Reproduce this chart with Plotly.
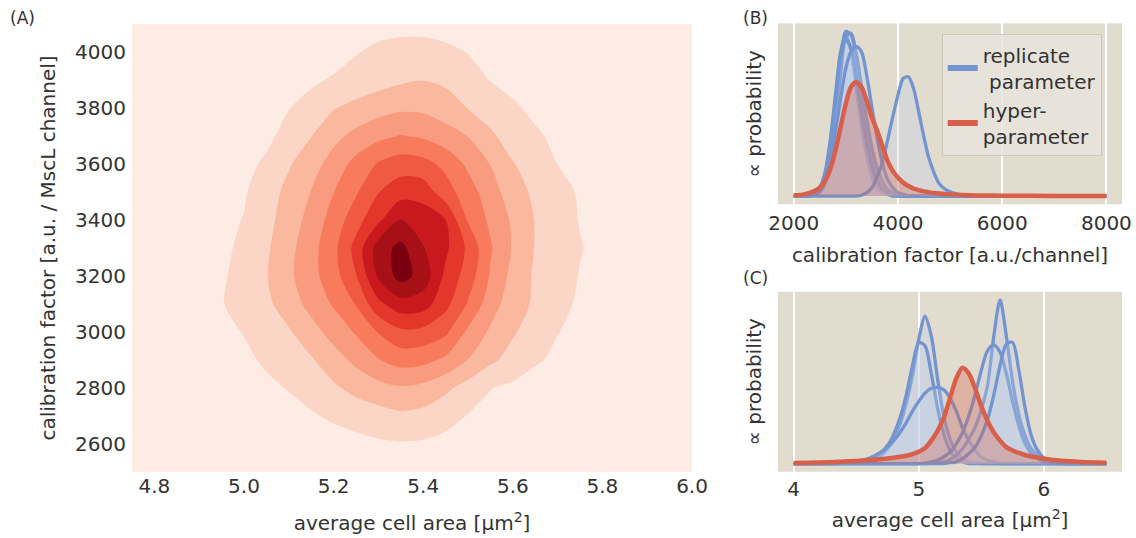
import plotly.graph_objects as go

# ---------------- Panel A: joint density (contour levels) ----------------
area_grid = [4.75, 4.9, 4.95, 5.0, 5.05, 5.1, 5.15, 5.2, 5.25, 5.3, 5.35, 5.4, 5.45,
             5.5, 5.55, 5.6, 5.65, 5.7, 5.75, 5.8, 5.9, 6.0]
calib_grid = [2500, 2600, 2700, 2800, 2900, 3000, 3100, 3200, 3300, 3400, 3500,
              3600, 3700, 3800, 3900, 4000, 4100]
density_levels = [
    [0.05, 0.1, 0.12, 0.15, 0.2, 0.25, 0.3, 0.35, 0.4, 0.45, 0.5, 0.48, 0.42, 0.36, 0.3, 0.25, 0.2, 0.15, 0.12, 0.1, 0.07, 0.05],
    [0.1, 0.2, 0.25, 0.3, 0.38, 0.45, 0.52, 0.6, 0.7, 0.85, 0.92, 0.88, 0.72, 0.6, 0.5, 0.42, 0.35, 0.3, 0.25, 0.2, 0.15, 0.1],
    [0.15, 0.3, 0.38, 0.45, 0.55, 0.7, 0.9, 1.15, 1.4, 1.6, 1.8, 1.68, 1.35, 0.95, 0.75, 0.6, 0.5, 0.42, 0.35, 0.3, 0.2, 0.12],
    [0.2, 0.4, 0.5, 0.6, 0.8, 1.05, 1.35, 1.85, 2.3, 2.65, 2.9, 2.72, 2.2, 1.6, 1.03, 0.8, 0.65, 0.55, 0.45, 0.38, 0.25, 0.15],
    [0.25, 0.5, 0.62, 0.8, 1.15, 1.5, 1.9, 2.55, 3.25, 3.95, 4.4, 4.3, 3.8, 2.97, 2.2, 1.65, 1.1, 0.85, 0.62, 0.5, 0.32, 0.2],
    [0.3, 0.6, 0.75, 1.04, 1.45, 1.9, 2.6, 3.4, 4.1, 5.05, 5.8, 5.7, 5.2, 3.8, 2.85, 2.1, 1.55, 1.02, 0.8, 0.6, 0.38, 0.22],
    [0.35, 0.75, 0.95, 1.35, 1.8, 2.45, 3.35, 4.1, 5.05, 6.75, 7.6, 7.45, 6.3, 4.9, 3.45, 2.45, 1.85, 1.3, 0.85, 0.7, 0.42, 0.25],
    [0.38, 0.7, 0.85, 1.4, 1.95, 2.8, 3.65, 4.6, 5.95, 8.15, 9.4, 8.6, 6.75, 5.55, 3.9, 2.7, 1.85, 1.5, 0.95, 0.75, 0.45, 0.25],
    [0.38, 0.65, 0.8, 1.2, 1.85, 2.7, 3.65, 4.7, 6.35, 8.5, 9.3, 8.05, 7.2, 5.8, 4.1, 2.9, 1.95, 1.5, 1.05, 0.75, 0.45, 0.25],
    [0.35, 0.6, 0.75, 1.04, 1.75, 2.4, 3.4, 4.4, 5.6, 6.8, 8.0, 7.6, 7.0, 4.9, 3.8, 2.85, 1.95, 1.45, 0.95, 0.75, 0.42, 0.22],
    [0.3, 0.55, 0.75, 0.9, 1.55, 2.28, 3.03, 3.98, 4.88, 5.96, 6.6, 6.55, 5.44, 4.45, 3.45, 2.45, 1.8, 1.45, 0.85, 0.65, 0.38, 0.2],
    [0.25, 0.45, 0.6, 0.75, 1.15, 1.9, 2.6, 3.4, 4.33, 5.1, 5.5, 5.35, 4.73, 3.8, 2.97, 2.05, 1.6, 0.98, 0.8, 0.6, 0.35, 0.18],
    [0.2, 0.38, 0.48, 0.6, 0.8, 1.3, 1.97, 2.72, 3.28, 3.73, 4.05, 3.85, 3.4, 2.97, 2.15, 1.6, 1.1, 0.85, 0.65, 0.5, 0.3, 0.15],
    [0.15, 0.3, 0.38, 0.48, 0.75, 0.97, 1.35, 1.95, 2.3, 2.6, 2.82, 2.8, 2.5, 1.97, 1.6, 1.1, 0.85, 0.68, 0.5, 0.4, 0.25, 0.12],
    [0.1, 0.2, 0.28, 0.35, 0.5, 0.65, 0.85, 1.1, 1.35, 1.6, 1.85, 1.98, 1.8, 1.4, 0.98, 0.8, 0.62, 0.5, 0.4, 0.3, 0.2, 0.1],
    [0.05, 0.12, 0.17, 0.22, 0.3, 0.4, 0.5, 0.62, 0.95, 1.2, 1.35, 1.35, 1.2, 0.97, 0.78, 0.6, 0.45, 0.35, 0.28, 0.2, 0.12, 0.06],
    [0.02, 0.05, 0.07, 0.1, 0.15, 0.2, 0.3, 0.4, 0.55, 0.65, 0.7, 0.7, 0.62, 0.5, 0.4, 0.3, 0.22, 0.15, 0.1, 0.07, 0.05, 0.02],
]
level_colors = ['#fcece4', '#fbd6c6', '#fab89e', '#f99b7e', '#f87b5e',
                '#f15a42', '#e2372a', '#c8191e', '#a81017', '#7a0010']
a_xticks = [4.8, 5.0, 5.2, 5.4, 5.6, 5.8, 6.0]
a_yticks = [2600, 2800, 3000, 3200, 3400, 3600, 3800, 4000]

# ---------------- Panel B: calibration factor posteriors ----------------
calib_x = [2000, 2200, 2400, 2500, 2600, 2700, 2800, 2900, 3000, 3100, 3200, 3300, 3400, 3500,
           3600, 3700, 3800, 3900, 4000, 4100, 4200, 4300, 4400, 4500, 4600, 4800, 5000, 5200,
           5500, 6000, 7000, 8000]
calib_rep1 = [0, 0, 0.01, 0.03, 0.1, 0.27, 0.5, 0.78, 0.98, 0.96, 0.8, 0.58, 0.37, 0.21, 0.11, 0.05,
              0.02, 0.01, 0.005, 0, 0, 0, 0, 0, 0, 0, 0, 0, 0, 0, 0, 0]
calib_rep2 = [0, 0, 0.02, 0.05, 0.14, 0.33, 0.6, 0.86, 0.96, 0.86, 0.64, 0.42, 0.24, 0.12, 0.05, 0.02,
              0.01, 0, 0, 0, 0, 0, 0, 0, 0, 0, 0, 0, 0, 0, 0, 0]
calib_rep3 = [0, 0, 0.005, 0.02, 0.07, 0.2, 0.43, 0.72, 0.95, 0.97, 0.85, 0.66, 0.46, 0.29, 0.17, 0.09,
              0.04, 0.02, 0.01, 0.005, 0, 0, 0, 0, 0, 0, 0, 0, 0, 0, 0, 0]
calib_rep4 = [0, 0, 0.01, 0.04, 0.12, 0.3, 0.56, 0.82, 0.93, 0.88, 0.7, 0.5, 0.32, 0.18, 0.09, 0.04,
              0.02, 0.01, 0, 0, 0, 0, 0, 0, 0, 0, 0, 0, 0, 0, 0, 0]
calib_rep5 = [0, 0, 0.01, 0.03, 0.08, 0.2, 0.38, 0.58, 0.76, 0.86, 0.89, 0.86, 0.72, 0.53, 0.35, 0.2,
              0.1, 0.05, 0.02, 0.01, 0, 0, 0, 0, 0, 0, 0, 0, 0, 0, 0, 0]
calib_rep6 = [0, 0, 0, 0, 0, 0, 0, 0, 0, 0, 0, 0.005, 0.02, 0.05, 0.11, 0.2, 0.33, 0.47, 0.6, 0.7,
              0.71, 0.64, 0.5, 0.35, 0.22, 0.07, 0.025, 0.008, 0.002, 0, 0, 0]
calib_hyper = [0.005, 0.01, 0.03, 0.05, 0.09, 0.16, 0.27, 0.41, 0.55, 0.65, 0.68, 0.65, 0.57, 0.47,
               0.39, 0.3, 0.21, 0.15, 0.11, 0.08, 0.06, 0.045, 0.035, 0.028, 0.022, 0.015, 0.01,
               0.007, 0.004, 0.002, 0.001, 0.0005]
calib_reps = [calib_rep1, calib_rep2, calib_rep3, calib_rep4, calib_rep5, calib_rep6]
b_xticks = [2000, 4000, 6000, 8000]

# ---------------- Panel C: average cell area posteriors ----------------
area_x = [4.0, 4.2, 4.4, 4.5, 4.6, 4.7, 4.75, 4.8, 4.85, 4.9, 4.95, 5.0, 5.05, 5.1, 5.15, 5.2,
          5.25, 5.3, 5.35, 5.4, 5.45, 5.5, 5.55, 5.6, 5.65, 5.7, 5.75, 5.8, 5.85, 5.9, 5.95, 6.0,
          6.1, 6.2, 6.3, 6.5]
area_rep1 = [0, 0, 0, 0.005, 0.015, 0.05, 0.09, 0.15, 0.24, 0.37, 0.54, 0.76, 0.9, 0.78, 0.52, 0.29,
             0.15, 0.07, 0.03, 0.012, 0.005, 0, 0, 0, 0, 0, 0, 0, 0, 0, 0, 0, 0, 0, 0, 0]
area_rep2 = [0, 0, 0.003, 0.01, 0.03, 0.07, 0.11, 0.18, 0.28, 0.42, 0.6, 0.74, 0.72, 0.55, 0.34, 0.18,
             0.08, 0.03, 0.01, 0, 0, 0, 0, 0, 0, 0, 0, 0, 0, 0, 0, 0, 0, 0, 0, 0]
area_rep3 = [0, 0, 0.005, 0.01, 0.03, 0.07, 0.1, 0.14, 0.19, 0.25, 0.32, 0.38, 0.43, 0.46, 0.465, 0.45,
             0.4, 0.32, 0.22, 0.14, 0.08, 0.04, 0.02, 0.01, 0, 0, 0, 0, 0, 0, 0, 0, 0, 0, 0, 0]
area_rep4 = [0, 0, 0, 0, 0, 0, 0, 0, 0, 0, 0, 0, 0, 0.003, 0.005, 0.01, 0.025, 0.05, 0.09, 0.15,
             0.22, 0.33, 0.48, 0.78, 1.0, 0.78, 0.5, 0.3, 0.17, 0.09, 0.05, 0.025, 0.005, 0, 0, 0]
area_rep5 = [0, 0, 0, 0, 0, 0, 0, 0, 0, 0, 0, 0, 0.003, 0.01, 0.02, 0.04, 0.07, 0.12, 0.19, 0.29,
             0.42, 0.57, 0.69, 0.725, 0.68, 0.55, 0.38, 0.23, 0.12, 0.06, 0.03, 0.01, 0, 0, 0, 0]
area_rep6 = [0, 0, 0, 0, 0, 0, 0, 0, 0, 0, 0, 0, 0, 0, 0, 0, 0.005, 0.01, 0.03, 0.06, 0.1, 0.17,
             0.27, 0.42, 0.6, 0.73, 0.74, 0.57, 0.34, 0.17, 0.08, 0.035, 0.005, 0, 0, 0]
area_hyper = [0.003, 0.006, 0.012, 0.016, 0.021, 0.027, 0.031, 0.035, 0.041, 0.048, 0.058, 0.072,
              0.095, 0.14, 0.2, 0.28, 0.4, 0.52, 0.585, 0.55, 0.46, 0.35, 0.26, 0.19, 0.14, 0.1,
              0.08, 0.065, 0.052, 0.043, 0.036, 0.03, 0.02, 0.014, 0.01, 0.005]
area_reps = [area_rep1, area_rep2, area_rep3, area_rep4, area_rep5, area_rep6]
c_xticks = [4, 5, 6]

# ---------------- styling ----------------
BLUE = '#7294cf'
RED = '#d8604b'
BLUE_FILL = 'rgba(190,205,235,0.30)'
RED_FILL = 'rgba(216,96,75,0.33)'
PANEL_BG = '#e2dccf'
TXT = '#333333'
FONT = 'DejaVu Sans'

fig = go.Figure()

fig.add_trace(go.Contour(
    x=area_grid, y=calib_grid, z=density_levels, xaxis='x', yaxis='y',
    autocontour=False,
    contours=dict(start=1, end=9, size=1, coloring='fill', showlines=False),
    line=dict(width=0, smoothing=0.85),
    colorscale=[[i / 9, c] for i, c in enumerate(level_colors)],
    showscale=False, hoverinfo='skip', showlegend=False))

for reps, xs, hyper, xa, ya in [(calib_reps, calib_x, calib_hyper, 'x2', 'y2'),
                                (area_reps, area_x, area_hyper, 'x3', 'y3')]:
    for r in reps:
        fig.add_trace(go.Scatter(x=xs, y=r, xaxis=xa, yaxis=ya, mode='lines',
                                 line=dict(color=BLUE, width=3.3, shape='spline', smoothing=0.8),
                                 fill='tozeroy', fillcolor=BLUE_FILL,
                                 showlegend=False, hoverinfo='skip'))
    fig.add_trace(go.Scatter(x=xs, y=hyper, xaxis=xa, yaxis=ya, mode='lines',
                             line=dict(color=RED, width=4.5, shape='spline', smoothing=0.8),
                             fill='tozeroy', fillcolor=RED_FILL,
                             showlegend=False, hoverinfo='skip'))

# legend entries
fig.add_trace(go.Scatter(x=[None], y=[None], xaxis='x2', yaxis='y2', mode='lines',
                         line=dict(color=BLUE, width=6), name='replicate<br>\u00a0parameter'))
fig.add_trace(go.Scatter(x=[None], y=[None], xaxis='x2', yaxis='y2', mode='lines',
                         line=dict(color=RED, width=6), name='hyper-<br>parameter'))

b_max = max(max(r) for r in calib_reps + [calib_hyper])
c_max = max(max(r) for r in area_reps + [area_hyper])

tickfont = dict(family=FONT, size=20, color=TXT)
titlefont = dict(family=FONT, size=20, color=TXT)

common_x = dict(ticks='', zeroline=False, showline=False, automargin=False, tickfont=tickfont)

fig.update_layout(
    width=1136, height=538,
    margin=dict(l=0, r=0, t=0, b=0),
    paper_bgcolor='white', plot_bgcolor=PANEL_BG,
    font=dict(family=FONT, color=TXT),
    showlegend=True,
    legend=dict(x=0.829, y=0.936, xanchor='left', yanchor='top',
                bgcolor='rgba(232,228,220,0.85)', bordercolor='#cdc8be', borderwidth=1,
                font=dict(family=FONT, size=20, color=TXT), tracegroupgap=6),
    xaxis=dict(domain=[0.1162, 0.6092], range=[4.75, 6.0], anchor='y',
               tickvals=a_xticks, ticktext=['%.1f' % v for v in a_xticks], showgrid=False,
               title=dict(text='average cell area [µm<sup>2</sup>]', font=titlefont, standoff=19),
               **common_x),
    yaxis=dict(domain=[0.1227, 0.9554], range=[2500, 4100], anchor='x',
               tickvals=a_yticks, showgrid=False, ticklabelstandoff=5,
               title=dict(text='calibration factor [a.u. / MscL channel]', font=titlefont, standoff=14),
               **common_x),
    xaxis2=dict(domain=[0.6849, 0.9877], range=[1700, 8300], anchor='y2',
                tickvals=b_xticks, showgrid=True, gridcolor='white', gridwidth=1.5,
                ticklabelstandoff=5,
                title=dict(text='calibration factor [a.u./channel]', font=titlefont, standoff=13),
                **common_x),
    yaxis2=dict(domain=[0.6203, 0.9567], range=[-0.05 * b_max, 1.05 * b_max], anchor='x2',
                showticklabels=False, showgrid=False,
                title=dict(text='∝ probability', font=titlefont, standoff=10),
                **common_x),
    xaxis3=dict(domain=[0.6849, 0.9877], range=[3.875, 6.625], anchor='y3',
                tickvals=c_xticks, showgrid=True, gridcolor='white', gridwidth=1.5,
                ticklabelstandoff=3,
                title=dict(text='average cell area [µm<sup>2</sup>]', font=titlefont, standoff=13),
                **common_x),
    yaxis3=dict(domain=[0.1232, 0.4578], range=[-0.05 * c_max, 1.05 * c_max], anchor='x3',
                showticklabels=False, showgrid=False,
                title=dict(text='∝ probability', font=titlefont, standoff=10),
                **common_x),
    annotations=[
        dict(text='(A)', x=8 / 1136, y=1 - 18 / 538, xref='paper', yref='paper',
             xanchor='left', yanchor='middle', showarrow=False,
             font=dict(family=FONT, size=17, color=TXT)),
        dict(text='(B)', x=741 / 1136, y=1 - 18 / 538, xref='paper', yref='paper',
             xanchor='left', yanchor='middle', showarrow=False,
             font=dict(family=FONT, size=17, color=TXT)),
        dict(text='(C)', x=741 / 1136, y=1 - 278 / 538, xref='paper', yref='paper',
             xanchor='left', yanchor='middle', showarrow=False,
             font=dict(family=FONT, size=17, color=TXT)),
    ],
)

fig.write_html('out.html')
